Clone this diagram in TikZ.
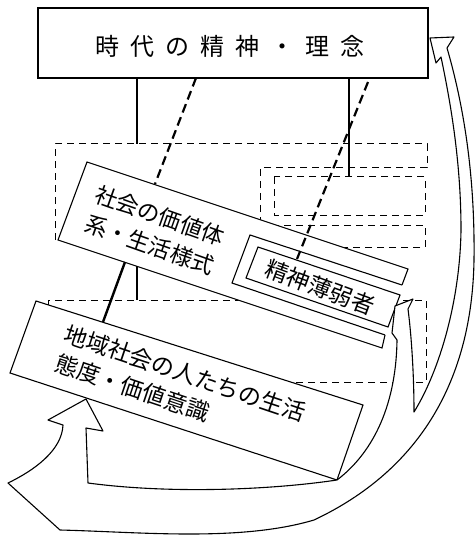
\documentclass[tikz,border=0pt]{standalone}
\usepackage{fontspec}
\newfontfamily\jp{Noto Sans CJK JP}
\newcommand\myks{\kern11pt}
\begin{document}
\begin{tikzpicture}[x=1pt,y=-1pt,
  boxline/.style={line width=1.1pt, line join=miter},
  thindash/.style={line width=1pt, dash pattern=on 7pt off 5pt},
  thickdash/.style={line width=2.2pt, dash pattern=on 9pt off 5pt},
  solidlink/.style={line width=2.4pt},
  thinlink/.style={line width=1.6pt},
  arrowbody/.style={line width=1.1pt, fill=white, line join=round},
  lbl/.style={inner sep=0pt, anchor=west},
  fa/.style={font=\jp\fontsize{22.5}{22.5}\selectfont},
  fb/.style={font=\jp\fontsize{23}{23}\selectfont}
]
\fill[white] (0,0) rectangle (474,537);
\useasboundingbox (0,0) rectangle (474,537);

% ---- top box
\node[draw, boxline, minimum width=390pt, minimum height=70pt, inner sep=0pt] (top) at (233,43) {};
\node[inner sep=0pt, font=\jp\fontsize{24}{24}\selectfont] (toptext) at (230,46)
  {時\myks 代\myks の\myks 精\myks 神\myks ・\myks 理\myks 念};

% ---- named points
\coordinate (topA) at (137,78);
\coordinate (topB) at (196,78);
\coordinate (topC) at (349,79);
\coordinate (topD) at (368,82);
\coordinate (layA) at (137,144);
\coordinate (layIn) at (349,177);
\coordinate (layD) at (137,300);

% ---- dashed layers
\draw[thindash] (55,240) -- (55,144) -- (427,144) -- (427,168) -- (260,168) -- (260,228);
\draw[thindash] (274,177) rectangle (425,215);
\draw[thindash] (260,225) -- (425,225) -- (425,247) -- (330,247);
\draw[thindash] (48,305) -- (48,300) -- (426,300) -- (426,382) -- (280,382);

% ---- box 1 (society)
\coordinate (b1tl) at (87,162);
\coordinate (b1tr) at (408,269);
\coordinate (b1br) at (382,348);
\coordinate (b1bl) at (58,240);
\fill[white] (b1tl) -- (b1tr) -- (b1br) -- (b1bl) -- cycle;
\draw[boxline] (402,285) -- (b1tr) -- (b1tl) -- (b1bl) -- (b1br) -- (385,335);
% frame + inner box
\draw[boxline] (402,285) -- (250,235) -- (232,283) -- (385,335);
\draw[boxline, fill=white] (258,247) -- (400,295) -- (388,327) -- (246,278) -- cycle;
\coordinate (b1top) at (155,184);
\coordinate (weaktop) at (297,259);
\coordinate (b1botA) at (125,262);
\coordinate (b1botB) at (137,266);

% ---- box 2 (community)
\coordinate (b2tl) at (36,301);
\coordinate (b2tr) at (363,405);
\coordinate (b2br) at (337,480);
\coordinate (b2bl) at (10,373);
\draw[boxline, fill=white] (b2tl) -- (b2tr) -- (b2br) -- (b2bl) -- cycle;
\coordinate (b2top) at (103,322);

% ---- texts
\node[lbl, fa, rotate=-19.5] (s1a) at (96,193) {社会の価値体};
\node[lbl, fa, rotate=-19.5] (s1b) at (86,222) {系・生活様式};
\node[lbl, fb, rotate=-18.6] (s2a) at (65,333) {地域社会の人たちの生活};
\node[lbl, fb, rotate=-18.6] (s2b) at (56,362) {態度・価値意識};
\node[inner sep=0pt, font=\jp\fontsize{23}{23}\selectfont, rotate=-20.3] (weak) at (320,287) {精神薄弱者};

% ---- connectors
\draw[solidlink] (topA) -- (layA);
\draw[thinlink] (topC) -- (layIn);
\draw[solidlink] (b1botA) -- (b2top);
\draw[solidlink] (b1botB) -- (layD);
\draw[thickdash] (topB) -- (b1top);
\draw[thickdash] (topD) -- (weaktop);

% ---- merged hollow arrows
\draw[arrowbody] (86,399) -- (103,431) -- (86,428)
  -- (88,483)
  .. controls (170,494) and (270,490) .. (337,480)
  .. controls (370,455) and (396,410) .. (397,340)
  -- (392,333) -- (395,306) -- (413,299) -- (408,309)
  .. controls (412,340) and (414,380) .. (414,412)
  .. controls (440,370) and (460,300) .. (461,230)
  .. controls (461,160) and (450,100) .. (441,57)
  -- (436,63) -- (430,38) -- (454,37) -- (447,48)
  .. controls (465,110) and (475,180) .. (474,260)
  .. controls (472,380) and (420,470) .. (314,520)
  .. controls (240,542) and (140,532) .. (60,530)
  -- (8,483)
  .. controls (35,470) and (62,450) .. (63,425)
  -- (48,420) -- cycle;
\end{tikzpicture}
\end{document}
